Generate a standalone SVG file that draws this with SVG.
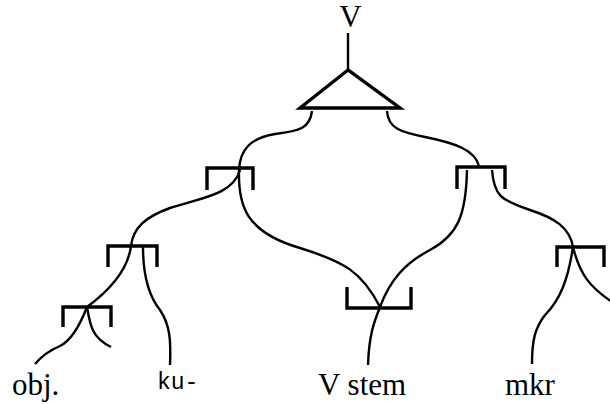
<svg xmlns="http://www.w3.org/2000/svg" width="610" height="404" viewBox="0 0 610 404">
<style>
.c{fill:none;stroke:#000;stroke-width:2.4;stroke-linecap:butt}
.b{fill:none;stroke:#000;stroke-width:3.4;stroke-linejoin:miter}
text.t{font-family:'Liberation Serif','Times New Roman',Times,'DejaVu Serif',serif;font-size:31px}
text.m{font-family:'Liberation Mono','Courier New',Courier,monospace;font-size:23px}
</style>
<rect width="610" height="404" fill="#fff"/>
<g id="node-V">
<text class="t" x="350.5" y="27" text-anchor="middle">V</text>
<line class="c" x1="348" y1="33" x2="348" y2="70" stroke-width="3"/>
<polygon class="b" points="348,70 300,108 400,108"/>
</g>
<g id="node-left"><path class="b" d="M207,190 V168 H253 V190"/></g>
<g id="node-right"><path class="b" d="M457,189 V167 H505 V189"/></g>
<g id="node-ku"><path class="b" d="M108,267 V246 H157 V267"/></g>
<g id="node-objb"><path class="b" d="M63,327 V307 H111 V327"/></g>
<g id="node-mkrb"><path class="b" d="M557,267 V247 H604 V267"/></g>
<g id="node-stem"><path class="b" d="M347,287 V308 H411 V287"/></g>
<g id="label-obj"><text class="t" x="12" y="395">obj.</text></g>
<g id="label-ku"><text class="m" x="157" y="389">ku-</text></g>
<g id="label-stem"><text class="t" x="318" y="395">V stem</text></g>
<g id="label-mkr"><text class="t" x="505" y="395">mkr</text></g>
<g id="connectors">
<path class="c" d="M312,111 C310,128 300,131 275,134 C250,138 240,150 239,170 C238,205 245,232 300,248 C345,262 362,272 380,307"/>
<path class="c" d="M240,170 C233,195 200,198 170,208 C145,217 133,228 131,246 C128,270 110,290 87,307 C80,325 72,340 60,346 C48,351 40,358 35,364"/>
<path class="c" d="M87,307 C90,325 92,338 111,347"/>
<path class="c" d="M143,247 C143,275 148,295 160,310 C170,325 171,340 170,365"/>
<path class="c" d="M387,111 C388,128 400,132 425,137 C455,143 475,150 479,166"/>
<path class="c" d="M467,170 C466,215 458,235 430,250 C405,263 390,280 380,307"/>
<path class="c" d="M380,307 C374,322 369,335 368,365"/>
<path class="c" d="M492,170 C494,195 500,200 530,210 C555,218 570,228 573,247"/>
<path class="c" d="M573,247 C568,280 560,300 545,315 C535,328 532,340 532,364"/>
<path class="c" d="M573,247 C580,275 590,287 612,302"/>
</g>
</svg>
